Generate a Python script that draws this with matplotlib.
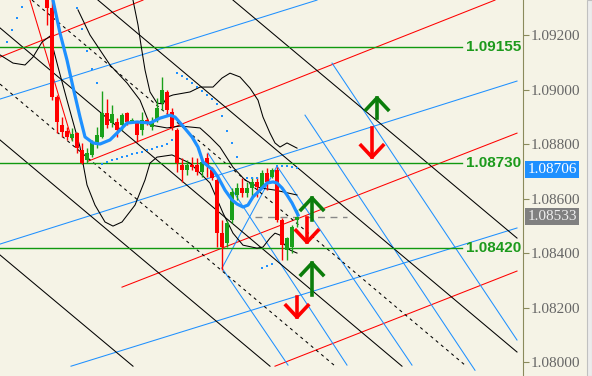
import numpy as np
import matplotlib
matplotlib.use("Agg")
from matplotlib import pyplot as plt
from matplotlib import transforms

# ---- candles (bar index, OHLC) ----
opens = [1.09330, 1.09299, 1.08972, 1.08870, 1.08848, 1.08822, 1.08840, 1.08778, 1.08741, 1.08760,
         1.08796, 1.08826, 1.08914, 1.08877, 1.08881, 1.08870, 1.08914, 1.08884, 1.08877, 1.08851,
         1.08888, 1.08862, 1.08888, 1.08950, 1.08991, 1.08917, 1.08851, 1.08723, 1.08705, 1.08723,
         1.08723, 1.08697, 1.08749, 1.08705, 1.08668, 1.08473, 1.08437, 1.08521, 1.08613, 1.08639,
         1.08620, 1.08639, 1.08661, 1.08642, 1.08694, 1.08679, 1.08705, 1.08521, 1.08411, 1.08422,
         1.08521]
highs = [1.09340, 1.09330, 1.08980, 1.08899, 1.08862, 1.08859, 1.08844, 1.08804, 1.08785, 1.08815,
         1.08862, 1.08994, 1.08965, 1.08943, 1.08895, 1.08914, 1.08917, 1.08895, 1.08881, 1.08917,
         1.08895, 1.08899, 1.08969, 1.09046, 1.08998, 1.08932, 1.08859, 1.08749, 1.08741, 1.08752,
         1.08749, 1.08741, 1.08767, 1.08715, 1.08675, 1.08521, 1.08521, 1.08639, 1.08657, 1.08675,
         1.08661, 1.08679, 1.08679, 1.08705, 1.08712, 1.08712, 1.08715, 1.08528, 1.08459, 1.08503,
         1.08558]
lows = [1.09237, 1.08961, 1.08840, 1.08826, 1.08815, 1.08811, 1.08767, 1.08727, 1.08730, 1.08752,
        1.08785, 1.08822, 1.08859, 1.08862, 1.08826, 1.08851, 1.08870, 1.08877, 1.08807, 1.08833,
        1.08870, 1.08851, 1.08881, 1.08925, 1.08906, 1.08851, 1.08697, 1.08661, 1.08686, 1.08705,
        1.08686, 1.08679, 1.08679, 1.08668, 1.08422, 1.08338, 1.08422, 1.08510, 1.08595, 1.08606,
        1.08606, 1.08606, 1.08606, 1.08639, 1.08631, 1.08675, 1.08514, 1.08374, 1.08374, 1.08400,
        1.08495]
closes = [1.09299, 1.08972, 1.08881, 1.08844, 1.08826, 1.08837, 1.08785, 1.08730, 1.08767, 1.08807,
          1.08833, 1.08914, 1.08870, 1.08910, 1.08851, 1.08906, 1.08881, 1.08888, 1.08833, 1.08888,
          1.08877, 1.08881, 1.08932, 1.08998, 1.08925, 1.08862, 1.08730, 1.08705, 1.08723, 1.08715,
          1.08697, 1.08734, 1.08723, 1.08675, 1.08473, 1.08422, 1.08510, 1.08624, 1.08639, 1.08620,
          1.08639, 1.08661, 1.08642, 1.08694, 1.08661, 1.08705, 1.08521, 1.08429, 1.08455, 1.08495,
          1.08533]

# ---- moving average (thick blue) ----
ma_x = [1.2, 2.6, 4.0, 5.2, 6.6, 7.6, 9.2, 10.6, 12.6, 14.2, 16.0, 18.0, 20.6, 22.6, 24.6, 25.6,
        27.0, 29.0, 30.2, 31.2, 33.2, 34.2, 35.6, 37.0, 38.0, 39.2, 40.2, 41.2, 42.6, 44.0, 45.2,
        46.0, 47.0, 48.0, 49.0, 50.2]
ma_y = [1.09328, 1.09207, 1.09108, 1.09009, 1.08899, 1.08826, 1.08804, 1.08800, 1.08815, 1.08844,
        1.08877, 1.08881, 1.08877, 1.08895, 1.08906, 1.08899, 1.08870, 1.08826, 1.08789, 1.08734,
        1.08705, 1.08679, 1.08631, 1.08595, 1.08580, 1.08569, 1.08576, 1.08606, 1.08631, 1.08657,
        1.08661, 1.08657, 1.08639, 1.08613, 1.08584, 1.08540]

# ---- parabolic dots ----
sar_x = [-8, -7, -6, -5, 6, 7, 8, 9, 10,
         11, 12, 13, 14, 15, 16, 17, 18, 19, 20, 21, 22, 23, 24, 25,
         26, 27, 28, 29, 30, 31, 32, 33, 34, 35, 36, 37, 38,
         40, 41, 42, 43, 44, 45, 46, 47, 48, 49, 50]
sar_y = [1.09174, 1.09218, 1.09262, 1.09303, 1.09299, 1.09222, 1.09141, 1.09075, 1.09024,
         1.08727, 1.08734, 1.08741, 1.08745, 1.08752, 1.08756, 1.08763, 1.08767, 1.08771, 1.08778,
         1.08782, 1.08789, 1.08793, 1.08800, 1.08815,
         1.09060, 1.09049, 1.09039, 1.09024, 1.09009, 1.08994, 1.08980, 1.08965, 1.08947, 1.08903,
         1.08848, 1.08804, 1.08752,
         1.08675, 1.08675, 1.08675, 1.08345, 1.08352, 1.08360, 1.08719, 1.08719, 1.08719, 1.08715,
         1.08712]

# ---- bands (black curves) ----
up_x = [17.2, 18.2, 18.8, 19.6, 20.6, 22.0, 23.2, 24.0, 25.2, 28.6, 30.6, 33.2, 35.0, 36.6, 38.6,
        40.6, 42.2, 43.2, 44.6, 45.6, 46.6, 48.0, 50.0]
up_y = [1.09328, 1.09237, 1.09163, 1.09072, 1.08991, 1.08950, 1.08947, 1.08972, 1.08980, 1.08991,
        1.09009, 1.09009, 1.09042, 1.09060, 1.09046, 1.09005, 1.08961, 1.08899, 1.08840, 1.08804,
        1.08789, 1.08804, 1.08785]
mid_x = [6.2, 8.6, 10.6, 12.6, 16.0, 18.6, 20.6, 24.0, 26.6, 30.6, 32.6, 34.6, 36.0, 37.2, 39.6,
         42.6, 45.6, 50.0]
mid_y = [1.09292, 1.09200, 1.09145, 1.09090, 1.09024, 1.08961, 1.08870, 1.08859, 1.08866, 1.08859,
         1.08826, 1.08789, 1.08749, 1.08715, 1.08668, 1.08639, 1.08631, 1.08613]
lo_x = [-9.4, -6.8, -4.4, -2.8, -1.0, 0.6, 2.2, 4.0, 6.6, 8.0, 9.6, 11.6, 13.2, 15.0, 17.6, 19.6,
        20.6, 22.0, 25.0, 28.6, 32.6, 35.2, 37.2, 39.2, 42.0, 43.2, 44.6, 45.6, 46.6, 47.2, 48.6, 50.0]
lo_y = [1.09127, 1.09097, 1.09090, 1.09119, 1.09174, 1.09196, 1.09083, 1.08961, 1.08789, 1.08650,
        1.08576, 1.08514, 1.08499, 1.08514, 1.08576, 1.08668, 1.08730, 1.08752, 1.08760, 1.08730,
        1.08657, 1.08547, 1.08473, 1.08429, 1.08418, 1.08422, 1.08455, 1.08473, 1.08466, 1.08437,
        1.08411, 1.08400]

# ---- drawn objects: (x0, p0, x1, p1) ----
red_lines = [(-9.4, 1.09119, 19.2, 1.09328), (8.2, 1.08737, 89.6, 1.09328),
             (15.0, 1.08275, 94.0, 1.08840), (45.6, 1.07985, 94.0, 1.08334),
             (-3.4, 1.09328, 5.0, 1.08815)]
blue_lines = [(-9.4, 1.08965, 54.0, 1.09328), (-9.4, 1.08433, 94.0, 1.09031),
              (4.8, 1.07985, 94.0, 1.08492),
              (57.0, 1.09097, 94.0, 1.08081), (51.6, 1.08906, 85.6, 1.07970),
              (46.0, 1.08719, 73.0, 1.07989), (32.2, 1.08767, 60.0, 1.07989),
              (35.0, 1.08345, 48.2, 1.07989), (35.0, 1.08345, 46.0, 1.08719)]
black_lines = [(37.2, 1.09328, 94.0, 1.08455), (10.2, 1.09328, 94.0, 1.08037),
               (-9.4, 1.09226, 71.0, 1.07985), (-9.4, 1.08815, 44.6, 1.07985),
               (-9.4, 1.08393, 17.2, 1.07985)]
dashed_lines = [(-3.0, 1.09328, 83.6, 1.07989), (-9.4, 1.09020, 57.4, 1.07989)]

levels = [1.09155, 1.08730, 1.08420]
level_labels = ["1.09155", "1.08730", "1.08420"]
last_price = 1.08533
bid_price = 1.08706

# arrows: bar, tail price, tip price
up_arrows = [(66.0, 1.08895, 1.08969), (53.0, 1.08521, 1.08602), (53.0, 1.08246, 1.08363)]
down_arrows = [(65.0, 1.08859, 1.08752), (52.0, 1.08528, 1.08440), (50.0, 1.08239, 1.08165)]

price_ticks = [1.08000, 1.08200, 1.08400, 1.08600, 1.08800, 1.09000, 1.09200]

bg = '#f5f3e6'
RED = '#ff0000'
GREEN = '#1aa01a'
BLUE = '#1e90ff'
lw = 0.75

fig = plt.figure(figsize=(5.92, 3.76), dpi=100)
fig.patch.set_facecolor(bg)
ax = fig.add_axes([0, 0, 523 / 592, 1])
ax.set_facecolor(bg)
ax.set_xlim(-9.4, 95.2)
ax.set_ylim(1.07949, 1.093284)

# channel lines
for x0, p0, x1, p1 in red_lines:
    ax.plot([x0, x1], [p0, p1], color=RED, lw=lw)
for x0, p0, x1, p1 in blue_lines:
    ax.plot([x0, x1], [p0, p1], color=BLUE, lw=lw)
for x0, p0, x1, p1 in black_lines:
    ax.plot([x0, x1], [p0, p1], color='black', lw=lw)
for x0, p0, x1, p1 in dashed_lines:
    ax.plot([x0, x1], [p0, p1], color='black', lw=lw, dashes=(3, 3.5))

# levels
for lv in levels:
    ax.plot([-9.4, 83.0], [lv, lv], color='#10990f', lw=1.0)
ax.plot([41.6, 60.0], [last_price, last_price], color='#888888', lw=1.0, dashes=(5, 4))

# bands
ax.plot(up_x, up_y, color='black', lw=lw)
ax.plot(mid_x, mid_y, color='black', lw=lw)
ax.plot(lo_x, lo_y, color='black', lw=lw)

# candles
xs = np.arange(len(opens))
o = np.array(opens)
c = np.array(closes)
cols = [GREEN if cc >= oo else RED for oo, cc in zip(o, c)]
ax.vlines(xs, lows, highs, colors=cols, lw=1.0, zorder=3)
bottoms = np.minimum(o, c)
heights = np.maximum(np.abs(c - o), 0.00004)
ax.bar(xs, heights, bottom=bottoms, width=0.62, color=cols, zorder=4)

# MA and sar
ax.plot(ma_x, ma_y, color=BLUE, lw=2.3, zorder=5)
ax.plot(sar_x, sar_y, 's', color=BLUE, ms=1.8, mew=0, zorder=5)

# arrows
hw = 2.2
hh = 0.00043
for x, tail, tip in up_arrows:
    ax.plot([x, x], [tail, tip], color='#0b7d0b', lw=2.6, zorder=6)
    ax.plot([x - hw, x, x + hw], [tip - hh, tip, tip - hh], color='#0b7d0b', lw=2.6, zorder=6)
for x, tail, tip in down_arrows:
    ax.plot([x, x], [tail, tip], color=RED, lw=2.6, zorder=6)
    ax.plot([x - hw, x, x + hw], [tip + hh, tip, tip + hh], color=RED, lw=2.6, zorder=6)

trans = transforms.blended_transform_factory(ax.transAxes, ax.transData)
for lv, lab in zip(levels, level_labels):
    ax.text(0.997, lv, lab, transform=trans, ha='right', va='center', color='#1c9a1c',
            fontsize=11, fontweight='bold', family='Liberation Sans')

# price axis
for s in ['top', 'left', 'bottom']:
    ax.spines[s].set_visible(False)
ax.spines['right'].set_color('#8a8a5c')
ax.set_xticks([])
ax.yaxis.tick_right()
ax.set_yticks(price_ticks)
ax.set_yticklabels(['%.5f' % t for t in price_ticks])
ax.tick_params(axis='y', colors='#8a8a5c', length=4, width=0.8, pad=1.5, labelcolor='#666666',
               labelsize=11)
for t in ax.get_yticklabels():
    t.set_family('Liberation Serif')

ax.text(1.008, bid_price, '%.5f' % bid_price, transform=trans, ha='left', va='center',
        color='white', fontsize=11, family='Liberation Serif', clip_on=False,
        bbox=dict(boxstyle='square,pad=0.12', fc=BLUE, ec='none'))
ax.text(1.008, last_price, '%.5f' % last_price, transform=trans, ha='left', va='center',
        color='#eeeeee', fontsize=11, family='Liberation Serif', clip_on=False,
        bbox=dict(boxstyle='square,pad=0.12', fc='#808080', ec='none'))

# right side strip
fig.patches.append(plt.Rectangle((587 / 592, 0), 5 / 592, 1, transform=fig.transFigure,
                                 fc='#ececec', ec='#c0c0c0', lw=0.8))

fig.savefig('out.png', dpi=100, facecolor=bg)
